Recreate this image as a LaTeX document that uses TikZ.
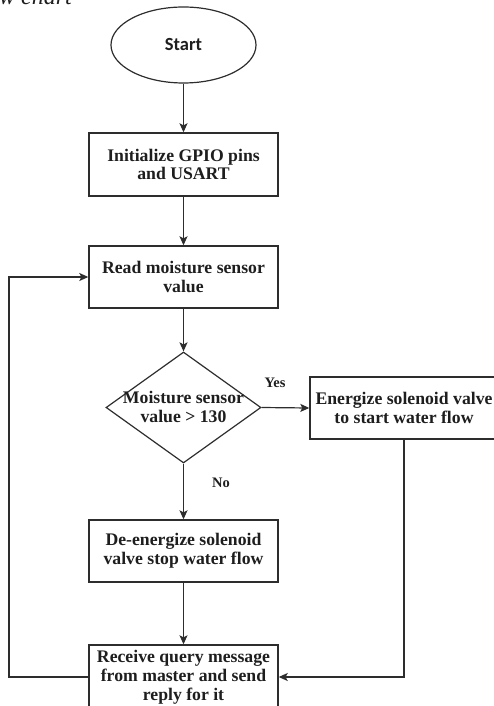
\documentclass[tikz,border=0pt]{standalone}
\usepackage{fontspec}
\setmainfont{Liberation Serif}
\newfontfamily\startfont{Carlito}
\usetikzlibrary{shapes.geometric,arrows.meta}
\definecolor{ln}{RGB}{45,45,45}
\definecolor{tx}{RGB}{30,30,30}
\tikzset{
  box/.style={draw=ln,line width=1.4pt,rectangle,minimum width=189pt,minimum height=62pt,inner sep=0pt,align=center,
    font=\fontsize{17.7}{18.8}\selectfont\bfseries, text=tx},
  lbl/.style={font=\fontsize{14.5}{16}\selectfont\bfseries, text=tx},
  arr/.style={draw=ln,line width=1.2pt,-{Stealth[length=9pt,width=8pt,inset=2pt]}},
  con/.style={draw=ln,line width=1.2pt}
}
\begin{document}
\begin{tikzpicture}[x=1pt,y=-1pt]
\useasboundingbox (0,0) rectangle (494,706);
\clip (0,0) rectangle (494,706);
\node[anchor=base east,font=\fontsize{24}{26}\selectfont\itshape,text=tx,inner sep=0pt] (title) at (72,4.5) {Flow chart};
\node[draw=ln,line width=1.2pt,ellipse,minimum width=145pt,minimum height=76pt,inner sep=0pt,font=\startfont\fontsize{18.5}{20}\selectfont\bfseries,text=tx] (start) at (183.5,45) {Start};
\node[box,minimum height=63pt] (init) at (183.5,164.5) {Initialize GPIO pins\\and USART};
\node[box] (read) at (183.5,277) {Read moisture sensor\\value};
\node[draw=ln,line width=1.2pt,diamond,minimum width=155pt,minimum height=111pt,inner sep=0pt] (dec) at (183.5,407.5) {};
\node[align=center,font=\fontsize{17.7}{18.4}\selectfont\bfseries,text=tx] (dectext) at (183.5,407) {Moisture sensor\\value > 130};
\node[box,minimum width=188pt] (energ) at (404,408) {Energize solenoid valve\\to start water flow};
\node[box] (deen) at (183.5,551) {De-energize solenoid\\valve stop water flow};
\node[box,minimum height=64pt] (recv) at (183.5,677) {Receive query message\\from master and send\\reply for it};
\node[lbl] (yes) at (275,383) {Yes};
\node[lbl] (no) at (221,483) {No};
\draw[arr] (start.south) -- (init.north);
\draw[arr] (init.south) -- (read.north);
\draw[arr] (read.south) -- (dec.north);
\draw[arr] (dec.east) -- (energ.west);
\draw[arr] (dec.south) -- (deen.north);
\draw[arr] (deen.south) -- (recv.north);
\draw[arr] (energ.south) |- (recv.east);
\coordinate (lp) at (9,677);
\draw[arr] (recv.west) -- (lp) |- (read.west);
\end{tikzpicture}
\end{document}
